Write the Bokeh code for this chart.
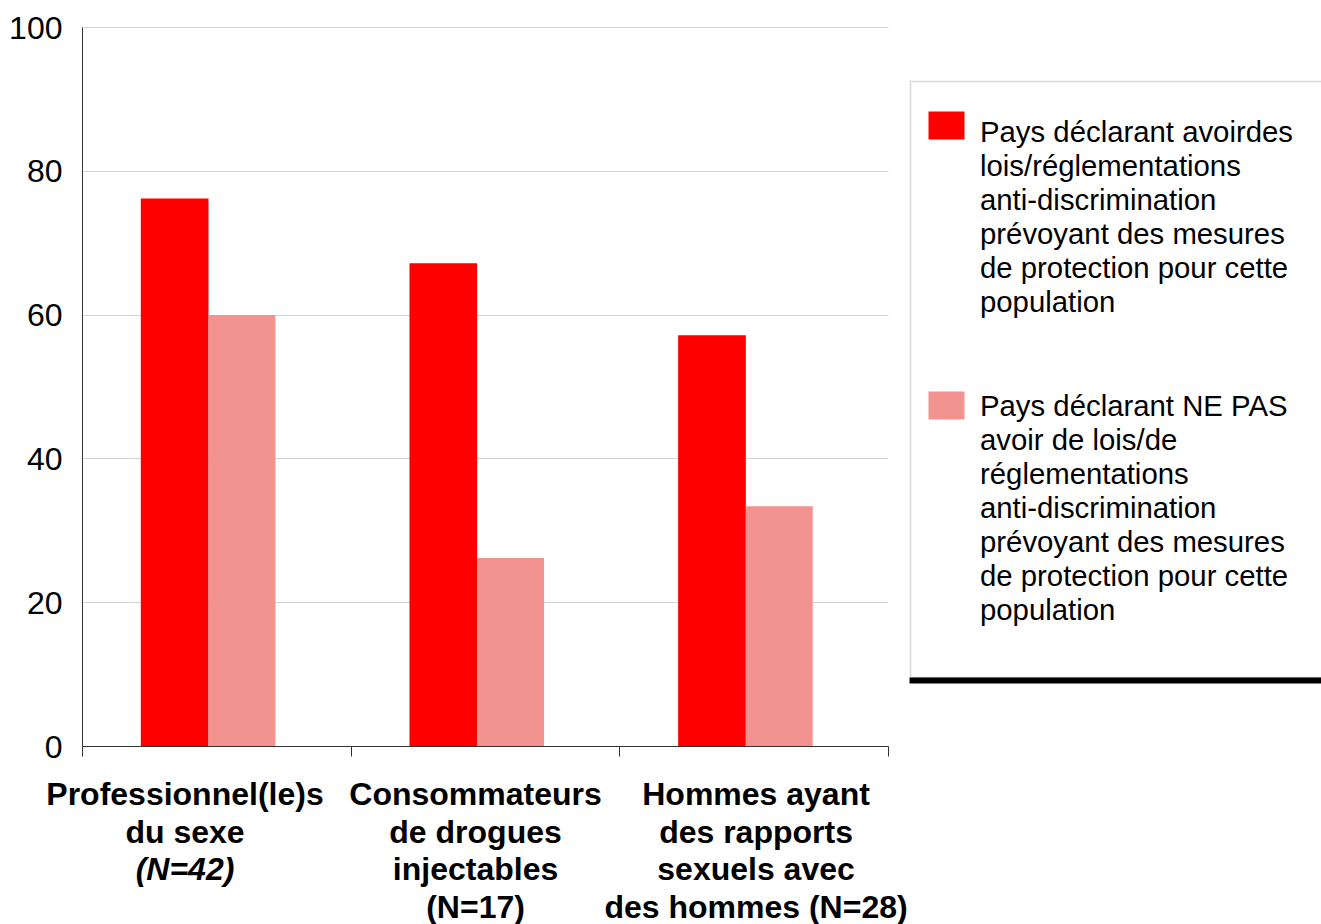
import numpy as np
from bokeh.plotting import figure
from bokeh.models import (Range1d, Legend, LegendItem, Label, BoxAnnotation,
                          FixedTicker, ColumnDataSource)
from bokeh.embed import file_html
from bokeh.resources import INLINE

# ---- data ----
categories = [
    "Professionnel(le)s du sexe (N=42)",
    "Consommateurs de drogues injectables (N=17)",
    "Hommes ayant des rapports sexuels avec des hommes (N=28)",
]
label_lines = [
    ["Professionnel(le)s", "du sexe", "(N=42)"],
    ["Consommateurs", "de drogues", "injectables", "(N=17)"],
    ["Hommes ayant", "des rapports", "sexuels avec", "des hommes (N=28)"],
]
with_laws = [76.2, 67.2, 57.2]
without_laws = [60.0, 26.2, 33.4]
series_names = [
    "Pays déclarant avoirdes\nlois/réglementations\nanti-discrimination\nprévoyant des mesures\nde protection pour cette\npopulation",
    "Pays déclarant NE PAS\navoir de lois/de\nréglementations\nanti-discrimination\nprévoyant des mesures\nde protection pour cette\npopulation",
]
y_ticks = [0, 20, 40, 60, 80, 100]

# ---- style / layout (pixels) ----
FONT = "Liberation Sans"
RED = "#FF0000"
PINK = "#F3938F"
AXIS = "#333333"
GRID = "#d4d4d4"
label_shift = [-0.1185, -0.037, 0.007]
W, H = 1321, 924
LEFT, TOP = 82, 27          # where the 0..3 x 0..100 plot area starts
PLOT_W, PLOT_H = 806, 719   # its pixel size

n = len(categories)
ux = PLOT_W / n             # pixels per x unit
uy = PLOT_H / 100           # pixels per y unit
x_range = Range1d(-LEFT / ux, (W - LEFT) / ux)
y_range = Range1d(-(H - TOP - PLOT_H) / uy, 100 + TOP / uy)

idx = np.arange(n)
src = ColumnDataSource(dict(
    x1=idx + 0.343, x2=idx + 0.5935,
    with_laws=with_laws, without_laws=without_laws,
))

p = figure(width=W, height=H, output_backend="svg", toolbar_location=None,
           x_range=x_range, y_range=y_range,
           min_border_left=0, min_border_right=0,
           min_border_top=0, min_border_bottom=0)
p.outline_line_color = None
p.background_fill_color = "white"
p.border_fill_color = "white"

r1 = p.vbar(x="x1", top="with_laws", width=0.252, source=src,
            fill_color=RED, line_color=None)
r2 = p.vbar(x="x2", top="without_laws", width=0.249, source=src,
            fill_color=PINK, line_color=None)

# y axis (at x = 0)
yax = p.yaxis[0]
yax.fixed_location = 0
yax.ticker = FixedTicker(ticks=y_ticks)
yax.bounds = (0, 100)
yax.major_tick_out = 0
yax.major_tick_in = 0
yax.minor_tick_out = 0
yax.minor_tick_in = 0
yax.major_label_standoff = 20
yax.major_label_text_font = FONT
yax.major_label_text_font_size = "32px"
yax.major_label_text_color = "black"
yax.axis_line_color = AXIS

# x axis (at y = 0)
xax = p.xaxis[0]
xax.fixed_location = 0
xax.bounds = (0, n)
xax.ticker = FixedTicker(ticks=list(range(n + 1)))
xax.major_tick_out = 10
xax.major_tick_in = 0
xax.minor_tick_out = 0
xax.minor_tick_in = 0
xax.major_label_overrides = {i: "" for i in range(n + 1)}
xax.axis_line_color = AXIS
xax.major_tick_line_color = AXIS

p.xgrid.visible = False
yg = p.ygrid[0]
yg.ticker = FixedTicker(ticks=y_ticks[1:])
yg.grid_line_color = GRID
if "cross_bounds" in yg.properties():
    yg.cross_bounds = (0, n)
else:
    yg.visible = False
    p.segment(x0=[0] * 5, x1=[n] * 5, y0=y_ticks[1:], y1=y_ticks[1:],
              line_color=GRID, line_width=1, level="underlay")

# category labels
for i, lines in enumerate(label_lines):
    for k, line in enumerate(lines):
        style = "bold italic" if (i == 0 and line.startswith("(N=")) else "bold"
        p.add_layout(Label(x=i + 0.5 + label_shift[i], y=0, y_offset=-47.5 - 37.5 * k,
                           text=line, text_align="center", text_baseline="middle",
                           text_font=FONT, text_font_size="32px",
                           text_font_style=style, text_color="black"))

# legend frame (screen px from the bottom-left corner)
p.add_layout(BoxAnnotation(left=910, right=W + 50, bottom=H - 677, top=H - 81,
                           left_units="screen", right_units="screen",
                           top_units="screen", bottom_units="screen",
                           fill_alpha=0,
                           line_color="#7f7f7f", line_width=1.5))
p.add_layout(BoxAnnotation(left=909, right=W + 50, bottom=H - 683, top=H - 677,
                           left_units="screen", right_units="screen",
                           top_units="screen", bottom_units="screen",
                           fill_color="black", fill_alpha=1, line_color=None))
# legend swatches
for color, top in [(RED, 111), (PINK, 391)]:
    p.add_layout(BoxAnnotation(left=928, right=964, top=H - top, bottom=H - top - 28,
                               left_units="screen", right_units="screen",
                               top_units="screen", bottom_units="screen",
                               fill_color=color, fill_alpha=1, line_color=None))

legend = Legend(items=[LegendItem(label=series_names[0], renderers=[r1]),
                       LegendItem(label=series_names[1], renderers=[r2])],
                location=(979, 297))
legend.label_text_font = FONT
legend.label_text_font_size = "29.33px"
legend.label_text_color = "black"
legend.glyph_width = 1
legend.glyph_height = 1
legend.label_standoff = 0
legend.padding = 0
legend.spacing = 70
legend.margin = 0
legend.border_line_color = None
legend.background_fill_alpha = 0
p.add_layout(legend)

open("out.html", "w").write(file_html(p, INLINE))
